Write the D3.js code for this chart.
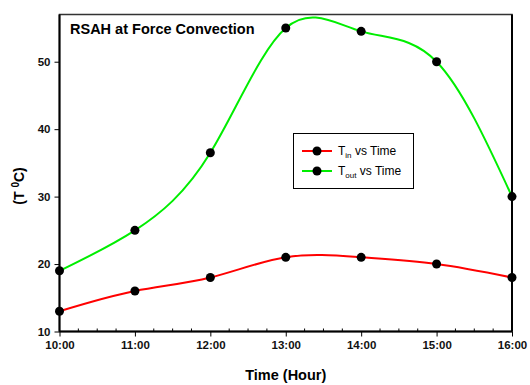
<!DOCTYPE html>
<html><head><meta charset="utf-8">
<script src="https://cdn.jsdelivr.net/npm/d3@7"></script>
<style>body{margin:0;background:#fff}text{font-family:"Liberation Sans",Arial,sans-serif}</style>
</head><body><svg id="c" width="530" height="385"></svg>
<script>
const hours = [10, 11, 12, 13, 14, 15, 16];
const xTickLabels = ["10:00","11:00","12:00","13:00","14:00","15:00","16:00"];
const tIn = [13, 16, 18, 21, 21, 20, 18];
const tOut = [19, 25, 36.5, 55, 54.5, 50, 30];
const yTicks = [10, 20, 30, 40, 50];

const svg = d3.select("#c");
const L = 59.5, R = 512, T = 14.5, B = 331.5;
const x = d3.scaleLinear().domain([10, 16]).range([L, R]);
const y = d3.scaleLinear().domain([10, 57]).range([B, T]);

svg.append("rect").attr("x", L).attr("y", T).attr("width", R - L).attr("height", B - T)
  .attr("fill", "none").attr("stroke", "#333").attr("stroke-width", 1.5);

const line = d3.line().x((d, i) => x(hours[i])).y(d => y(d)).curve(d3.curveNatural);
svg.append("path").datum(tOut).attr("d", line).attr("fill", "none").attr("stroke", "#00ee00").attr("stroke-width", 2);
svg.append("path").datum(tIn).attr("d", line).attr("fill", "none").attr("stroke", "#ff0000").attr("stroke-width", 2);

const xAxis = d3.axisBottom(x).tickValues(hours).tickFormat((d, i) => xTickLabels[i]).tickSize(5).tickPadding(4);
const gx = svg.append("g").attr("transform", `translate(0,${B})`).call(xAxis);
const minor = d3.range(10, 16.001, 0.25).filter(v => Math.abs(v - Math.round(v)) > 0.01);
gx.selectAll(".minor").data(minor).enter().append("line").attr("class", "minor")
  .attr("x1", d => x(d)).attr("x2", d => x(d)).attr("y1", 0).attr("y2", -3).attr("stroke", "#000");
const yAxis = d3.axisLeft(y).tickValues(yTicks).tickSize(5).tickPadding(4);
const gy = svg.append("g").attr("transform", `translate(${L},0)`).call(yAxis);
[gx, gy].forEach(g => {
  g.select(".domain").attr("stroke", "#000").attr("stroke-width", 2);
  g.selectAll(".tick line").attr("stroke", "#000");
  g.selectAll("text").attr("font-size", 11.5).attr("font-weight", "bold").attr("fill", "#111")
    .attr("font-family", '"Liberation Sans",Arial,sans-serif');
});
gx.select(".domain").attr("d", `M${L},0H${R}`);
gy.select(".domain").attr("d", `M0,${B}V${T}`);
svg.append("line").attr("x1", R).attr("x2", R).attr("y1", T).attr("y2", B).attr("stroke", "#000").attr("stroke-width", 2);

[tOut, tIn].forEach(s => {
  svg.append("g").selectAll("circle").data(s).enter().append("circle")
    .attr("cx", (d, i) => x(hours[i])).attr("cy", d => y(d)).attr("r", 4.5).attr("fill", "#000");
});

svg.append("text").attr("x", 70).attr("y", 34).attr("font-size", 14.5).attr("font-weight", "bold").text("RSAH at Force Convection");

svg.append("text").attr("x", (L + R) / 2).attr("y", 380).attr("text-anchor", "middle").attr("font-size", 14.5).attr("font-weight", "bold").text("Time (Hour)");
const yl = svg.append("text").attr("transform", "translate(24,186) rotate(-90)").attr("text-anchor", "middle").attr("font-size", 14).attr("font-weight", "bold");
yl.append("tspan").text("(T ");
yl.append("tspan").attr("font-size", 10).attr("dy", -5).text("0");
yl.append("tspan").attr("dy", 5).text("C)");

const lg = svg.append("g");
lg.append("rect").attr("x", 293.5).attr("y", 133.5).attr("width", 120).attr("height", 55)
  .attr("fill", "#fff").attr("stroke", "#000").attr("stroke-width", 1);
const items = [{c: "#ff0000", sub: "in", yy: 151}, {c: "#00ee00", sub: "out", yy: 171}];
items.forEach(it => {
  lg.append("line").attr("x1", 302).attr("x2", 332).attr("y1", it.yy).attr("y2", it.yy).attr("stroke", it.c).attr("stroke-width", 2);
  lg.append("circle").attr("cx", 317).attr("cy", it.yy).attr("r", 4.5).attr("fill", "#000");
  const t = lg.append("text").attr("x", 338).attr("y", it.yy + 4).attr("font-size", 12);
  t.append("tspan").text("T");
  t.append("tspan").attr("font-size", 8).attr("dy", 3).text(it.sub);
  t.append("tspan").attr("dy", -3).text(" vs Time");
});
</script></body></html>
